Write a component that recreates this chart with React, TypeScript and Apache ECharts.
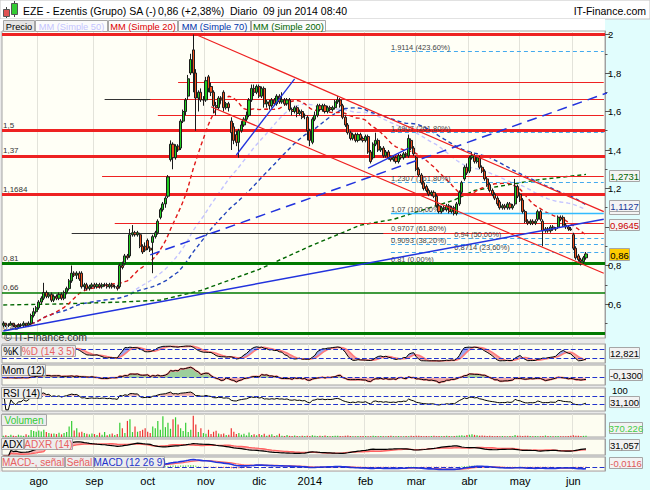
import React, { useEffect, useRef } from "react";
import * as echarts from "echarts";

// ---------- calendar (Bolsa de Madrid trading days) ----------
const firstDay = "2013-07-12";
const lastDay = "2014-06-09";
const holidays = ["2013-12-25", "2013-12-26", "2014-01-01", "2014-04-18", "2014-04-21", "2014-05-01"];
const emptySlots = 7;
const monthMarks: [string, string][] = [
  ["2013-08-01", "ago"], ["2013-09-02", "sep"], ["2013-10-01", "oct"], ["2013-11-01", "nov"],
  ["2013-12-02", "dic"], ["2014-01-02", "2014"], ["2014-02-03", "feb"], ["2014-03-03", "mar"],
  ["2014-04-01", "abr"], ["2014-05-02", "may"], ["2014-06-02", "jun"],
];

// ---------- prices [open, close, low, high] ----------
const jul13 = [
  [0.49, 0.50, 0.48, 0.51], [0.50, 0.49, 0.48, 0.50], [0.49, 0.49, 0.48, 0.50], [0.49, 0.50, 0.49, 0.51],
  [0.50, 0.49, 0.48, 0.50], [0.49, 0.48, 0.47, 0.49], [0.48, 0.49, 0.47, 0.50], [0.49, 0.49, 0.48, 0.50],
  [0.49, 0.50, 0.48, 0.51], [0.50, 0.49, 0.48, 0.50], [0.49, 0.50, 0.48, 0.51], [0.50, 0.54, 0.49, 0.55],
  [0.54, 0.56, 0.53, 0.58], [0.56, 0.58, 0.55, 0.59],
];
const aug13 = [
  [0.58, 0.61, 0.57, 0.62], [0.61, 0.63, 0.60, 0.64], [0.63, 0.66, 0.62, 0.71], [0.66, 0.64, 0.63, 0.67],
  [0.64, 0.65, 0.63, 0.66], [0.65, 0.62, 0.61, 0.66], [0.62, 0.64, 0.61, 0.65], [0.64, 0.63, 0.62, 0.65],
  [0.63, 0.65, 0.62, 0.66], [0.65, 0.63, 0.62, 0.66], [0.63, 0.66, 0.62, 0.67], [0.66, 0.68, 0.65, 0.69],
  [0.68, 0.72, 0.67, 0.73], [0.72, 0.76, 0.71, 0.80], [0.76, 0.75, 0.74, 0.77], [0.75, 0.76, 0.73, 0.77],
  [0.76, 0.73, 0.72, 0.77], [0.76, 0.69, 0.68, 0.77], [0.69, 0.70, 0.67, 0.71], [0.70, 0.68, 0.67, 0.71],
  [0.68, 0.69, 0.67, 0.70], [0.69, 0.70, 0.68, 0.71],
];
const sep13 = [
  [0.70, 0.69, 0.68, 0.71], [0.69, 0.70, 0.68, 0.71], [0.70, 0.69, 0.68, 0.71], [0.69, 0.70, 0.68, 0.71],
  [0.70, 0.70, 0.69, 0.71], [0.70, 0.69, 0.68, 0.71], [0.69, 0.70, 0.68, 0.71], [0.70, 0.69, 0.68, 0.71],
  [0.69, 0.69, 0.68, 0.70], [0.69, 0.68, 0.67, 0.70], [0.69, 0.80, 0.68, 0.81], [0.80, 0.79, 0.78, 0.82],
  [0.81, 0.85, 0.80, 0.86], [0.85, 0.84, 0.83, 0.86], [0.85, 0.96, 0.84, 0.99], [0.96, 0.97, 0.95, 1.01],
  [0.97, 0.96, 0.95, 0.98], [0.96, 0.97, 0.95, 0.98], [0.96, 0.90, 0.89, 0.97], [0.90, 0.87, 0.86, 0.91],
  [0.90, 0.88, 0.87, 0.92],
];
const oct13 = [
  [0.93, 0.89, 0.88, 0.94], [0.89, 0.88, 0.87, 0.90], [0.92, 0.95, 0.76, 0.96], [0.95, 0.97, 0.94, 0.98],
  [0.97, 1.03, 0.96, 1.04], [1.05, 1.09, 1.04, 1.10], [1.09, 1.12, 1.08, 1.13], [1.12, 1.15, 1.10, 1.16],
  [1.16, 1.26, 1.15, 1.27], [1.35, 1.43, 1.34, 1.45], [1.43, 1.36, 1.30, 1.44], [1.36, 1.42, 1.35, 1.43],
  [1.42, 1.40, 1.39, 1.43], [1.41, 1.55, 1.40, 1.56], [1.55, 1.60, 1.54, 1.61], [1.60, 1.66, 1.58, 1.67],
  [1.68, 1.77, 1.66, 1.79], [1.80, 1.87, 1.79, 1.90], [1.92, 1.80, 1.70, 2.00], [1.80, 1.67, 1.50, 1.82],
  [1.67, 1.70, 1.60, 1.71], [1.70, 1.66, 1.65, 1.72], [1.66, 1.66, 1.63, 1.68],
];
const nov13 = [
  [1.66, 1.76, 1.65, 1.78], [1.78, 1.72, 1.70, 1.79], [1.73, 1.70, 1.68, 1.75], [1.70, 1.63, 1.59, 1.71],
  [1.63, 1.62, 1.58, 1.65], [1.62, 1.67, 1.61, 1.68], [1.67, 1.66, 1.64, 1.68], [1.70, 1.62, 1.60, 1.71],
  [1.62, 1.64, 1.61, 1.65], [1.64, 1.62, 1.60, 1.65], [1.55, 1.49, 1.40, 1.57], [1.52, 1.45, 1.43, 1.54],
  [1.48, 1.44, 1.42, 1.50], [1.44, 1.50, 1.36, 1.51], [1.50, 1.53, 1.49, 1.55], [1.53, 1.56, 1.52, 1.57],
  [1.56, 1.58, 1.55, 1.60], [1.58, 1.66, 1.57, 1.67], [1.66, 1.72, 1.65, 1.74], [1.72, 1.70, 1.68, 1.74],
  [1.70, 1.73, 1.69, 1.74],
];
const dec13 = [
  [1.73, 1.68, 1.67, 1.74], [1.68, 1.72, 1.67, 1.73], [1.72, 1.64, 1.62, 1.73], [1.64, 1.65, 1.62, 1.66],
  [1.65, 1.63, 1.61, 1.66], [1.63, 1.66, 1.62, 1.67], [1.66, 1.64, 1.63, 1.67], [1.64, 1.68, 1.63, 1.69],
  [1.68, 1.65, 1.64, 1.69], [1.65, 1.66, 1.64, 1.70], [1.66, 1.64, 1.63, 1.67], [1.64, 1.66, 1.63, 1.67],
  [1.66, 1.61, 1.60, 1.67], [1.61, 1.60, 1.58, 1.62], [1.60, 1.62, 1.59, 1.63], [1.62, 1.59, 1.57, 1.63],
  [1.59, 1.60, 1.58, 1.61], [1.60, 1.57, 1.56, 1.61], [1.58, 1.58, 1.56, 1.59], [1.57, 1.50, 1.45, 1.58],
];
const jan14 = [
  [1.50, 1.45, 1.42, 1.51], [1.44, 1.56, 1.43, 1.57], [1.56, 1.58, 1.55, 1.60], [1.58, 1.63, 1.57, 1.64],
  [1.63, 1.61, 1.60, 1.64], [1.61, 1.63, 1.60, 1.64], [1.63, 1.60, 1.59, 1.64], [1.60, 1.62, 1.59, 1.63],
  [1.62, 1.61, 1.60, 1.63], [1.61, 1.62, 1.60, 1.63], [1.62, 1.65, 1.61, 1.66], [1.65, 1.66, 1.64, 1.68],
  [1.66, 1.63, 1.62, 1.67], [1.63, 1.57, 1.56, 1.64], [1.57, 1.53, 1.52, 1.58], [1.53, 1.49, 1.48, 1.54],
  [1.49, 1.46, 1.45, 1.50], [1.46, 1.48, 1.45, 1.49], [1.48, 1.45, 1.44, 1.49], [1.45, 1.48, 1.44, 1.49],
  [1.48, 1.46, 1.45, 1.49], [1.46, 1.45, 1.44, 1.47],
];
const feb14 = [
  [1.45, 1.47, 1.44, 1.48], [1.47, 1.39, 1.38, 1.48], [1.39, 1.34, 1.33, 1.40], [1.36, 1.43, 1.35, 1.44],
  [1.43, 1.45, 1.42, 1.49], [1.45, 1.40, 1.39, 1.46], [1.40, 1.41, 1.39, 1.42], [1.41, 1.37, 1.36, 1.42],
  [1.37, 1.39, 1.36, 1.40], [1.39, 1.36, 1.35, 1.40], [1.36, 1.35, 1.34, 1.37], [1.35, 1.36, 1.34, 1.37],
  [1.36, 1.34, 1.33, 1.37], [1.34, 1.37, 1.33, 1.38], [1.37, 1.36, 1.35, 1.38], [1.36, 1.38, 1.35, 1.39],
  [1.38, 1.37, 1.36, 1.39], [1.37, 1.46, 1.36, 1.48], [1.45, 1.41, 1.40, 1.46], [1.41, 1.38, 1.37, 1.42],
];
const mar14 = [
  [1.36, 1.30, 1.29, 1.37], [1.30, 1.27, 1.26, 1.31], [1.27, 1.23, 1.22, 1.28], [1.23, 1.20, 1.19, 1.24],
  [1.21, 1.19, 1.18, 1.22], [1.19, 1.17, 1.16, 1.20], [1.17, 1.18, 1.16, 1.19], [1.18, 1.16, 1.15, 1.19],
  [1.16, 1.11, 1.10, 1.17], [1.11, 1.08, 1.07, 1.12], [1.08, 1.10, 1.07, 1.11], [1.10, 1.09, 1.08, 1.11],
  [1.09, 1.11, 1.08, 1.12], [1.11, 1.08, 1.07, 1.12], [1.08, 1.10, 1.07, 1.11], [1.10, 1.07, 1.06, 1.11],
  [1.07, 1.12, 1.06, 1.13], [1.12, 1.18, 1.11, 1.19], [1.18, 1.23, 1.17, 1.24], [1.25, 1.31, 1.24, 1.32],
  [1.31, 1.28, 1.27, 1.33],
];
const apr14 = [
  [1.29, 1.36, 1.28, 1.37], [1.36, 1.37, 1.35, 1.39], [1.37, 1.34, 1.33, 1.38], [1.34, 1.36, 1.33, 1.37],
  [1.36, 1.31, 1.30, 1.37], [1.31, 1.29, 1.28, 1.32], [1.29, 1.25, 1.24, 1.30], [1.25, 1.22, 1.21, 1.26],
  [1.22, 1.19, 1.18, 1.23], [1.19, 1.17, 1.16, 1.20], [1.17, 1.15, 1.14, 1.18], [1.15, 1.12, 1.11, 1.16],
  [1.13, 1.10, 1.09, 1.14], [1.10, 1.11, 1.09, 1.12], [1.11, 1.10, 1.09, 1.12], [1.10, 1.12, 1.09, 1.13],
  [1.12, 1.10, 1.09, 1.13], [1.10, 1.11, 1.09, 1.12], [1.12, 1.21, 1.11, 1.25], [1.21, 1.16, 1.15, 1.22],
];
const may14 = [
  [1.17, 1.14, 1.13, 1.18], [1.14, 1.08, 1.07, 1.15], [1.08, 1.03, 1.02, 1.09], [1.03, 1.02, 1.01, 1.04],
  [1.02, 1.03, 1.01, 1.04], [1.03, 1.02, 1.01, 1.04], [1.02, 1.03, 1.01, 1.04], [1.04, 1.08, 1.03, 1.09],
  [1.08, 1.04, 1.03, 1.09], [1.03, 0.98, 0.90, 1.04], [0.98, 0.99, 0.97, 1.00], [0.99, 0.98, 0.97, 1.00],
  [0.98, 1.00, 0.97, 1.01], [1.00, 0.99, 0.98, 1.01], [0.99, 0.99, 0.98, 1.00], [1.00, 1.05, 0.99, 1.06],
  [1.05, 1.04, 1.03, 1.06], [1.05, 1.01, 1.00, 1.06], [1.01, 1.00, 0.99, 1.02], [1.00, 0.99, 0.98, 1.01],
  [0.99, 0.985, 0.98, 1.00],
];
const jun14 = [
  [0.96, 0.89, 0.88, 0.97], [0.89, 0.84, 0.83, 0.90], [0.85, 0.83, 0.82, 0.86], [0.83, 0.82, 0.80, 0.84],
  [0.82, 0.84, 0.81, 0.85], [0.84, 0.86, 0.83, 0.87],
];

// ---------- volume (thousands of shares) ----------
const volJul13 = [350, 500, 300, 650, 400, 300, 700, 450, 350, 800, 500, 2100, 1800, 1600];
const volAug13 = [2000, 1700, 2200, 1500, 1200, 1000, 1100, 900, 1300, 800, 1200, 1500, 3200, 4900, 2000, 2700, 1400, 1600, 1200, 1000, 800, 1100];
const volSep13 = [900, 600, 1300, 700, 1500, 500, 800, 1100, 600, 900, 4300, 2700, 1200, 4900, 5400, 1500, 3200, 1600, 1800, 2200, 2700];
const volOct13 = [1600, 1200, 3200, 2700, 4900, 2200, 6300, 3000, 4300, 2500, 5400, 6000, 3800, 2700, 1800, 4300, 1500, 2200, 6500, 3800, 1500, 2700, 1200];
const volNov13 = [1000, 2200, 900, 1600, 1900, 1100, 800, 1100, 600, 700, 2700, 1600, 900, 1200, 700, 1000, 500, 1400, 600, 800, 500];
const volDec13 = [900, 600, 1000, 400, 700, 800, 300, 500, 1000, 400, 300, 600, 350, 300, 450, 300, 250, 400, 300, 350];
const volJan14 = [300, 500, 400, 250, 350, 300, 450, 300, 200, 300, 400, 350, 300, 250, 350, 450, 300, 250, 200, 300, 250, 300];
const volFeb14 = [300, 250, 200, 350, 300, 250, 300, 200, 250, 300, 350, 250, 200, 300, 250, 200, 300, 250, 350, 300];
const volMar14 = [400, 350, 300, 250, 300, 250, 300, 350, 250, 300, 250, 300, 350, 300, 250, 300, 400, 450, 500, 400, 600];
const volApr14 = [700, 800, 650, 500, 400, 450, 350, 300, 350, 300, 250, 300, 250, 300, 250, 200, 300, 250, 600, 400];
const volMay14 = [350, 300, 400, 350, 300, 250, 300, 200, 250, 300, 450, 300, 250, 200, 250, 300, 250, 200, 250, 300, 350];
const volJun14 = [500, 400, 350, 300, 350, 370.226];

// ---------- 200-day average (history precedes the window) ----------
const ma200Points: [string, number][] = [
  ["2013-07-12", 0.595], ["2013-08-13", 0.60], ["2013-09-16", 0.61], ["2013-10-08", 0.62],
  ["2013-10-30", 0.67], ["2013-12-02", 0.78], ["2014-01-02", 0.90], ["2014-01-30", 1.01],
  ["2014-02-18", 1.04], ["2014-03-24", 1.14], ["2014-04-03", 1.19], ["2014-05-13", 1.245],
  ["2014-06-09", 1.2731],
];

// ---------- drawn levels / annotations ----------
const RED = "#ee2222";
const GREEN = "#007a00";
const DARK = "#333333";
const levelLines = [
  { price: 2.0, from: 0, color: RED, width: 3, label: "" },
  { price: 1.5, from: 0, color: RED, width: 3, label: "1,5" },
  { price: 1.37, from: 0, color: RED, width: 3, label: "1,37" },
  { price: 1.1684, from: 0, color: RED, width: 3, label: "1,1684" },
  { price: 1.752, from: 69, color: RED, width: 1, label: "" },
  { price: 1.663, from: 40, color: DARK, width: 1, label: "" },
  { price: 1.663, from: 58, color: RED, width: 1, label: "" },
  { price: 1.58, from: 61, color: RED, width: 1, label: "" },
  { price: 1.262, from: 39, color: RED, width: 1, label: "" },
  { price: 1.02, from: 44, color: RED, width: 1, label: "" },
  { price: 0.97, from: 27, color: DARK, width: 1, label: "" },
  { price: 0.97, from: 150, color: RED, width: 1, label: "" },
  { price: 0.81, from: 0, color: GREEN, width: 3, label: "0,81" },
  { price: 0.66, from: 0, color: GREEN, width: 1.5, label: "0,66" },
  { price: 0.45, from: 0, color: GREEN, width: 3, label: "0,45" },
];
const fibStart = 153;
const fibLevels = [
  { price: 1.9114, text: "1,9114 (423,60%)", line: "dashed", labelAt: 153 },
  { price: 1.4907, text: "1,4907 (261,80%)", line: "dashed", labelAt: 153 },
  { price: 1.2307, text: "1,2307 (161,80%)", line: "dashed", labelAt: 153 },
  { price: 1.07, text: "1,07 (100,00%)", line: "solid", labelAt: 153 },
  { price: 0.9707, text: "0,9707 (61,80%)", line: "none", labelAt: 153 },
  { price: 0.94, text: "0,94 (50,00%)", line: "dashed", labelAt: 178 },
  { price: 0.9093, text: "0,9093 (38,20%)", line: "dashed", labelAt: 153 },
  { price: 0.8714, text: "0,8714 (23,60%)", line: "dashed", labelAt: 178 },
  { price: 0.81, text: "0,81 (0,00%)", line: "none", labelAt: 153 },
];
const trendLines = [
  { pts: [[76, 2.0], [237, 1.08]], color: RED, width: 1.2, type: "solid" },
  { pts: [[82, 1.625], [237, 0.76]], color: RED, width: 1.2, type: "solid" },
  { pts: [[0, 0.46], [237, 1.04]], color: "#2233dd", width: 1.5, type: "solid" },
  { pts: [[58, 0.855], [255, 1.774]], color: "#2233dd", width: 1.5, type: [10, 6] },
  { pts: [[92, 1.374], [115, 1.77]], color: "#2233dd", width: 1.3, type: "solid" },
  { pts: [[144, 1.306], [160, 1.41]], color: "#2233dd", width: 1.3, type: "solid" },
];

const lastValues = { ma200: 1.2731, ma70: 1.1127, ma20: 0.9645, close: 0.86, stoch: 12.821, mom: -0.13, rsi: 31.1, vol: 370226, adx: 31.057, macd: -0.0116 };

// ---------- helpers ----------
function tradingDays(): string[] {
  const out: string[] = [];
  const hol = new Set(holidays);
  const d = new Date(firstDay + "T00:00:00Z");
  const end = new Date(lastDay + "T00:00:00Z");
  let extra = 0;
  while (d <= end || extra < emptySlots) {
    const wd = d.getUTCDay();
    const s = d.toISOString().slice(0, 10);
    if (wd !== 0 && wd !== 6 && !hol.has(s)) {
      out.push(s);
      if (d > end) extra++;
    }
    d.setUTCDate(d.getUTCDate() + 1);
  }
  return out;
}
const sma = (a: number[], n: number) => a.map((_, i) => {
  const s = Math.max(0, i - n + 1); let t = 0;
  for (let j = s; j <= i; j++) t += a[j];
  return t / (i - s + 1);
});
const ema = (a: number[], n: number) => {
  const k = 2 / (n + 1); let e = a[0];
  return a.map((v, i) => (e = i === 0 ? v : v * k + e * (1 - k)));
};
const wilder = (a: number[], n: number) => {
  let s = 0;
  return a.map((v, i) => (s = i < n ? (s * i + v) / (i + 1) : (s * (n - 1) + v) / n));
};
const comma = (v: number, d: number) => v.toFixed(d).replace(".", ",");

const FONT = '"Liberation Sans", Arial, sans-serif';

function buildOption() {
  const cats = tradingDays();
  const candles = [...jul13, ...aug13, ...sep13, ...oct13, ...nov13, ...dec13, ...jan14, ...feb14, ...mar14, ...apr14, ...may14, ...jun14];
  const vols = [...volJul13, ...volAug13, ...volSep13, ...volOct13, ...volNov13, ...volDec13, ...volJan14, ...volFeb14, ...volMar14, ...volApr14, ...volMay14, ...volJun14].map((v) => v * 1000);
  const o = candles.map((c) => c[0]);
  const c = candles.map((k) => k[1]);
  const l = candles.map((k) => k[2]);
  const h = candles.map((k) => k[3]);

  const monthIdx = new Map<number, string>();
  monthMarks.forEach(([d, lab]) => monthIdx.set(cats.indexOf(d), lab));

  // moving averages
  const ma20 = sma(c, 20), ma50 = sma(c, 50), ma70 = sma(c, 70);
  const ma200 = ma200Points.map(([d, v]) => [cats.indexOf(d), v]);

  // stochastic 14 3 5
  const fastK = c.map((v, i) => {
    const s = Math.max(0, i - 13);
    const hh = Math.max(...h.slice(s, i + 1)), ll = Math.min(...l.slice(s, i + 1));
    return hh === ll ? 50 : (100 * (v - ll)) / (hh - ll);
  });
  const K = sma(fastK, 3);
  const D = sma(K, 5);
  // momentum 12
  const mom = c.map((v, i) => v - c[Math.max(0, i - 12)]);
  // RSI 14
  const gains = c.map((v, i) => (i === 0 ? 0 : Math.max(v - c[i - 1], 0)));
  const losses = c.map((v, i) => (i === 0 ? 0 : Math.max(c[i - 1] - v, 0)));
  const ag = wilder(gains, 14), al = wilder(losses, 14);
  const rsi = ag.map((g, i) => (al[i] === 0 ? 100 : 100 - 100 / (1 + g / al[i])));
  // ADX 14
  const tr = c.map((_, i) => (i === 0 ? h[0] - l[0] : Math.max(h[i] - l[i], Math.abs(h[i] - c[i - 1]), Math.abs(l[i] - c[i - 1]))));
  const pdm = c.map((_, i) => { if (i === 0) return 0; const up = h[i] - h[i - 1], dn = l[i - 1] - l[i]; return up > dn && up > 0 ? up : 0; });
  const mdm = c.map((_, i) => { if (i === 0) return 0; const up = h[i] - h[i - 1], dn = l[i - 1] - l[i]; return dn > up && dn > 0 ? dn : 0; });
  const atr = wilder(tr, 14), sp = wilder(pdm, 14), sm = wilder(mdm, 14);
  const dx = atr.map((a, i) => { const p = (100 * sp[i]) / a, m = (100 * sm[i]) / a; return p + m === 0 ? 0 : (100 * Math.abs(p - m)) / (p + m); });
  const adx = wilder(dx, 14);
  const adxr = adx.map((v, i) => (v + adx[Math.max(0, i - 14)]) / 2);
  // MACD 12 26 9
  const e12 = ema(c, 12), e26 = ema(c, 26);
  const macd = e12.map((v, i) => v - e26[i]);
  const sig = ema(macd, 9);
  const hist = macd.map((v, i) => v - sig[i]);

  // ---- layout ----
  const L = 2, W = 603;
  const grids = [
    { top: 31, height: 307, bg: "#fffff6" },
    { top: 344, height: 19, bg: "#fdfdf1" },
    { top: 365, height: 20, bg: "#fdfdf1" },
    { top: 388, height: 23, bg: "#fdfdf1" },
    { top: 414, height: 23, bg: "#fdfdf1" },
    { top: 439, height: 16, bg: "#fdfdf1" },
    { top: 457, height: 14, bg: "#fdfdf1" },
  ];
  const pxPerUnit = 192.5; // price scale
  const PMAX = 2 + (34.5 - 31) / pxPerUnit;
  const PMIN = PMAX - 307 / pxPerUnit;

  const mkX = (gi: number, labels: boolean) => ({
    type: "category", gridIndex: gi, data: cats, boundaryGap: true,
    axisLine: { show: false }, axisTick: { show: false },
    axisLabel: labels
      ? { show: true, interval: (i: number) => monthIdx.has(i), formatter: (_v: string, i: number) => monthIdx.get(i) || "", color: "#000", fontSize: 11, fontFamily: FONT, margin: 4 }
      : { show: false },
    splitLine: { show: true, interval: (i: number) => monthIdx.has(i), lineStyle: { color: "#e3e3da", width: 1 } },
  });
  const mkY = (gi: number, min: number, max: number) => ({
    type: "value", gridIndex: gi, position: "right", min, max,
    axisLine: { show: true, lineStyle: { color: "#a0a0a0" } }, axisTick: { show: false },
    axisLabel: { show: false }, splitLine: { show: false },
  });

  const majors = [0.6, 0.8, 1.2, 1.4, 1.6, 1.8, 2.0];
  const majorTicks = [0.6, 0.8, 1.0, 1.2, 1.4, 1.6, 1.8, 2.0];
  const minors = [0.5, 0.7, 0.9, 1.1, 1.3, 1.5, 1.7, 1.9];

  const blueLine = { color: "#2233cc", width: 1.2 };
  const hline = (v: number) => ({ yAxis: v, lineStyle: blueLine });
  const mk = (vals: number[]) => ({ silent: true, symbol: "none", label: { show: false }, data: vals.map(hline) });

  const series: any[] = [];
  // candles
  series.push({
    type: "candlestick", name: "Precio", xAxisIndex: 0, yAxisIndex: 0, data: candles, barWidth: 2.6, z: 5,
    itemStyle: { color: "#1fcc1f", color0: "#f0501e", borderColor: "#1c1c1c", borderColor0: "#1c1c1c", borderWidth: 1 },
  });
  const maStyle = (color: string) => ({ color, width: 1.4, type: [4, 3] });
  series.push({ type: "line", name: "MM (Simple 50)", xAxisIndex: 0, yAxisIndex: 0, data: ma50, symbol: "none", lineStyle: maStyle("#c4c4ff"), z: 4 });
  series.push({ type: "line", name: "MM (Simple 70)", xAxisIndex: 0, yAxisIndex: 0, data: ma70, symbol: "none", lineStyle: maStyle("#2244bb"), z: 4 });
  series.push({ type: "line", name: "MM (Simple 200)", xAxisIndex: 0, yAxisIndex: 0, data: ma200, symbol: "none", lineStyle: maStyle("#006600"), z: 4 });
  series.push({ type: "line", name: "MM (Simple 20)", xAxisIndex: 0, yAxisIndex: 0, data: ma20, symbol: "none", lineStyle: maStyle("#e01818"), z: 4 });

  // horizontal levels
  const lastSlot = cats.length - 1;
  const levelData: any[] = levelLines.map((lv) => {
    const lab = lv.label
      ? { show: true, position: "insideStartTop", formatter: lv.label, color: "#333", fontSize: 8, fontFamily: FONT, distance: 1 }
      : { show: false };
    const ls = { color: lv.color, width: lv.width, type: "solid" };
    if (lv.from === 0) return { yAxis: lv.price, lineStyle: ls, label: lab };
    return [
      { coord: [lv.from, lv.price], lineStyle: ls, label: lab },
      { coord: [lastSlot, lv.price], lineStyle: ls },
    ];
  });
  const fibData: any[] = [];
  fibLevels.forEach((f) => {
    const ls = f.line === "none"
      ? { color: "rgba(0,0,0,0)", width: 0.01 }
      : { color: f.line === "solid" ? "#33bbff" : "#44aaee", width: f.line === "solid" ? 1.3 : 1, type: f.line === "solid" ? "solid" : [4, 3] };
    const lab = { show: true, position: "insideStartTop", formatter: f.text, color: "#444", fontSize: 7.5, fontFamily: FONT, distance: 0, opacity: 1 };
    if (f.labelAt > fibStart) {
      fibData.push([{ coord: [fibStart, f.price], lineStyle: ls, label: { show: false } }, { coord: [f.labelAt, f.price], lineStyle: ls }]);
    }
    fibData.push([{ coord: [f.labelAt, f.price], lineStyle: ls, label: lab }, { coord: [lastSlot, f.price], lineStyle: ls }]);
  });
  series.push({
    type: "line", name: "levels", xAxisIndex: 0, yAxisIndex: 0, data: [], z: 6,
    markLine: { silent: true, symbol: "none", animation: false, data: [...levelData, ...fibData] },
  });
  trendLines.forEach((t, i) => series.push({
    type: "line", name: "trend" + i, xAxisIndex: 0, yAxisIndex: 0, data: t.pts, symbol: "none", z: 6, clip: false,
    lineStyle: { color: t.color, width: t.width, type: t.type },
  }));

  // stochastic
  const lo = K.map((k, i) => Math.min(k, D[i]));
  series.push({ type: "line", xAxisIndex: 1, yAxisIndex: 2, data: lo, stack: "st", symbol: "none", lineStyle: { width: 0 }, markLine: mk([80, 20]) });
  series.push({ type: "line", xAxisIndex: 1, yAxisIndex: 2, data: K.map((k, i) => Math.max(k - D[i], 0)), stack: "st", symbol: "none", lineStyle: { width: 0 }, areaStyle: { color: "#9aa8f0", opacity: 1 } });
  series.push({ type: "line", xAxisIndex: 1, yAxisIndex: 2, data: K.map((k, i) => Math.max(D[i] - k, 0)), stack: "st", symbol: "none", lineStyle: { width: 0 }, areaStyle: { color: "#f4a8a8", opacity: 1 } });
  series.push({ type: "line", name: "%D", xAxisIndex: 1, yAxisIndex: 2, data: D, symbol: "none", lineStyle: { color: "#ff7b7b", width: 1.6 } });
  series.push({ type: "line", name: "%K", xAxisIndex: 1, yAxisIndex: 2, data: K, symbol: "none", lineStyle: { color: "#000", width: 1 } });

  // momentum
  series.push({ type: "line", xAxisIndex: 2, yAxisIndex: 3, data: mom.map((v) => Math.max(v, 0)), symbol: "none", lineStyle: { width: 0 }, areaStyle: { color: "#9ccf9c", opacity: 1 }, markLine: mk([0]) });
  series.push({ type: "line", xAxisIndex: 2, yAxisIndex: 3, data: mom.map((v) => Math.min(v, 0)), symbol: "none", lineStyle: { width: 0 }, areaStyle: { color: "#eeaaaa", opacity: 1 } });
  series.push({ type: "line", name: "Mom", xAxisIndex: 2, yAxisIndex: 3, data: mom, symbol: "none", lineStyle: { color: "#ff8c8c", width: 2 } });
  series.push({ type: "line", xAxisIndex: 2, yAxisIndex: 3, data: mom, symbol: "none", lineStyle: { color: "#000", width: 1 } });

  // RSI
  series.push({ type: "line", xAxisIndex: 3, yAxisIndex: 4, data: rsi.map((v) => Math.max(v, 70)), symbol: "none", lineStyle: { width: 0 }, areaStyle: { color: "#eeaaaa", opacity: 1, origin: 70 }, markLine: mk([70, 30]) });
  series.push({ type: "line", name: "RSI", xAxisIndex: 3, yAxisIndex: 4, data: rsi, symbol: "none", lineStyle: { color: "#000", width: 1 } });

  // volume
  series.push({
    type: "bar", name: "Volumen", xAxisIndex: 4, yAxisIndex: 5, barWidth: 1.2,
    data: vols.map((v, i) => ({ value: v, itemStyle: { color: c[i] >= o[i] ? "#33cc33" : "#ee3333" } })),
  });

  // ADX / ADXR
  series.push({ type: "line", xAxisIndex: 5, yAxisIndex: 6, data: adx.map((v, i) => Math.min(v, adxr[i])), stack: "ad", symbol: "none", lineStyle: { width: 0 } });
  series.push({ type: "line", xAxisIndex: 5, yAxisIndex: 6, data: adx.map((v, i) => Math.abs(v - adxr[i])), stack: "ad", symbol: "none", lineStyle: { width: 0 }, areaStyle: { color: "#f2b4b4", opacity: 1 } });
  series.push({ type: "line", name: "ADXR", xAxisIndex: 5, yAxisIndex: 6, data: adxr, symbol: "none", lineStyle: { color: "#ff6262", width: 1.4 } });
  series.push({ type: "line", name: "ADX", xAxisIndex: 5, yAxisIndex: 6, data: adx, symbol: "none", lineStyle: { color: "#000", width: 1.2 } });

  // MACD
  series.push({
    type: "bar", name: "MACD-", xAxisIndex: 6, yAxisIndex: 7, barWidth: 1,
    data: hist.map((v) => ({ value: v, itemStyle: { color: v >= 0 ? "#33cc33" : "#ee4444" } })), markLine: mk([0]),
  });
  series.push({ type: "line", name: "Señal", xAxisIndex: 6, yAxisIndex: 7, data: sig, symbol: "none", lineStyle: { color: "#ff6262", width: 1.2 } });
  series.push({ type: "line", name: "MACD", xAxisIndex: 6, yAxisIndex: 7, data: macd, symbol: "none", lineStyle: { color: "#2233dd", width: 1.6 } });

  // ---- graphics ----
  const g: any[] = [];
  const txt = (x: number, y: number, text: string, fill: string, size: number, align = "left", z = 50) =>
    ({ type: "text", x, y, z, silent: true, style: { text, fill, fontSize: size, fontFamily: FONT, align, verticalAlign: "middle" } });
  const box = (x: number, y: number, w: number, hgt: number, text: string, fill: string, bg: string, size: number, z = 60) => [
    { type: "rect", z, silent: true, shape: { x: x + 0.5, y: y + 0.5, width: w, height: hgt }, style: { fill: bg, stroke: "#a6a6a6", lineWidth: 1 } },
    txt(x + w / 2 + 0.5, y + hgt / 2 + 1, text, fill, size, "center", z + 1),
  ];
  // frame backdrops
  g.push({ type: "rect", z: -10, silent: true, shape: { x: 0, y: 0, width: 650, height: 19 }, style: { fill: "#ffffff", stroke: "#c4c4c4", lineWidth: 1 } });
  g.push({ type: "rect", z: -10, silent: true, shape: { x: 0, y: 19, width: 605, height: 453 }, style: { fill: "#e9e9e9" } });
  g.push({ type: "rect", z: -9, silent: true, shape: { x: 0, y: 19, width: 605, height: 12 }, style: { fill: "#ffffff" } });
  // logo candles
  g.push({ type: "line", z: 50, silent: true, shape: { x1: 6.5, y1: 7, x2: 6.5, y2: 18 }, style: { stroke: "#444", lineWidth: 1 } });
  g.push({ type: "rect", z: 51, silent: true, shape: { x: 3.5, y: 9.5, width: 6, height: 7 }, style: { fill: "#e05050", stroke: "#555", lineWidth: 1 } });
  g.push({ type: "line", z: 50, silent: true, shape: { x1: 14.5, y1: 1, x2: 14.5, y2: 17 }, style: { stroke: "#444", lineWidth: 1 } });
  g.push({ type: "rect", z: 51, silent: true, shape: { x: 11.5, y: 3.5, width: 6, height: 11 }, style: { fill: "#33cc33", stroke: "#555", lineWidth: 1 } });
  // header
  g.push(txt(23, 10.5, "EZE - Ezentis (Grupo) SA (-)", "#000", 10.5));
  g.push(txt(158, 10.5, comma(lastValues.close, 2) + " (+2,38%)", "#000", 10.5));
  g.push(txt(230, 10.5, "Diario", "#000", 10.5));
  g.push(txt(263, 10.5, "09 jun 2014 08:40", "#000", 10.5));
  g.push(txt(646, 10.5, "IT-Finance.com", "#000", 10.5, "right"));
  // legend row
  const legend = [
    { t: "Precio", x: 3, w: 31, c: "#000", bg: "#e4e4e4" },
    { t: "MM (Simple 50)", x: 35, w: 72, c: "#c4c4ff", bg: "#fbfbfb" },
    { t: "MM (Simple 20)", x: 108, w: 69, c: "#dd0000", bg: "#fbfbfb" },
    { t: "MM (Simple 70)", x: 178, w: 72, c: "#0033aa", bg: "#fbfbfb" },
    { t: "MM (Simple 200)", x: 251, w: 74, c: "#006600", bg: "#fbfbfb" },
  ];
  legend.forEach((it) => g.push(...box(it.x, 20, it.w, 11, it.t, it.c, it.bg, 9.3)));
  // panel labels
  const panelLabels = [
    { t: "%K", x: 1, y: 345, w: 19, c: "#000" },
    { t: "%D (14 3 5)", x: 21, y: 345, w: 54, c: "#e86060" },
    { t: "Mom (12)", x: 1, y: 364, w: 44, c: "#000" },
    { t: "RSI (14)", x: 1, y: 387, w: 40, c: "#000" },
    { t: "Volumen", x: 1, y: 414, w: 45, c: "#33cc33" },
    { t: "ADX", x: 1, y: 438, w: 22, c: "#000" },
    { t: "ADXR (14)", x: 24, y: 438, w: 48, c: "#e86060" },
    { t: "MACD-, señal", x: 1, y: 456, w: 63, c: "#e86060" },
    { t: "Señal", x: 65, y: 456, w: 28, c: "#e86060" },
    { t: "MACD (12 26 9)", x: 94, y: 456, w: 70, c: "#2233cc" },
  ];
  panelLabels.forEach((p) => g.push(...box(p.x, p.y, p.w, 11, p.t, p.c, "#ededed", 10)));
  // right value boxes (main)
  g.push(...box(609, 170, 30, 11, comma(lastValues.ma200, 4), "#006600", "#f4f4f4", 9.5));
  g.push({ type: "rect", z: 58, silent: true, shape: { x: 609.5, y: 203.5, width: 30, height: 11 }, style: { fill: "#f4f4f4", stroke: "#a6a6a6", lineWidth: 1 } });
  g.push(...box(609, 200, 30, 11, comma(lastValues.ma70, 4), "#1a3a9a", "#f4f4f4", 9.5));
  g.push(...box(609, 219, 30, 11, comma(lastValues.ma20, 4), "#cc0000", "#f4f4f4", 9.5));
  g.push(...box(609, 248, 20, 12, comma(lastValues.close, 2), "#000", "#ffcc00", 9.5));
  // right value boxes (panels)
  g.push(...box(609, 347, 30, 11, comma(lastValues.stoch, 3), "#000", "#f2f2f2", 9.5));
  g.push(...box(609, 369, 33, 11, comma(lastValues.mom, 4), "#000", "#f2f2f2", 9.5));
  g.push(txt(612, 390, "100", "#000", 9.5));
  g.push(...box(609, 396, 30, 11, comma(lastValues.rsi, 3), "#000", "#f2f2f2", 9.5));
  g.push(...box(609, 422, 33, 11, lastValues.vol.toLocaleString("en-US").replace(/,/g, "."), "#44cc44", "#f2f2f2", 9.5));
  g.push(...box(609, 439, 30, 11, comma(lastValues.adx, 3), "#000", "#f2f2f2", 9.5));
  g.push(...box(609, 457, 33, 11, comma(lastValues.macd, 4), "#e05858", "#f2f2f2", 9.5));
  // watermark
  g.push(txt(4, 337, "© IT-Finance.com", "#333", 10.5));

  return {
    animation: false,
    backgroundColor: "#e1fdfd",
    textStyle: { fontFamily: FONT },
    grid: grids.map((gd) => ({ left: L, width: W, top: gd.top, height: gd.height, show: true, backgroundColor: gd.bg, borderColor: "#a4a4a4", borderWidth: 1 })),
    xAxis: grids.map((_, i) => mkX(i, i === grids.length - 1)),
    yAxis: [
      {
        type: "value", gridIndex: 0, position: "right", min: PMIN, max: PMAX,
        axisLine: { show: true, lineStyle: { color: "#a0a0a0" } },
        axisTick: { show: true, customValues: majorTicks, length: 5, lineStyle: { color: "#555" } },
        axisLabel: { show: true, customValues: majors, formatter: (v: number) => String(+v.toFixed(1)).replace(".", ","), color: "#000", fontSize: 9.5, fontFamily: FONT, margin: 3 },
        splitLine: { show: false },
      },
      {
        type: "value", gridIndex: 0, position: "right", min: PMIN, max: PMAX,
        axisLine: { show: false }, axisTick: { show: true, customValues: minors, length: 2.5, lineStyle: { color: "#555" } },
        axisLabel: { show: false }, splitLine: { show: false },
      },
      mkY(1, -10, 112),
      mkY(2, -0.55, 0.95),
      mkY(3, -6, 109),
      mkY(4, 0, 7000000),
      mkY(5, 5, 75),
      mkY(6, -0.14, 0.33),
    ],
    series,
    graphic: { elements: g },
  };
}

export default function App() {
  const ref = useRef<HTMLDivElement>(null);
  useEffect(() => {
    if (!ref.current) return;
    const chart = echarts.init(ref.current, undefined, { renderer: "svg" });
    chart.setOption(buildOption() as any);
    return () => chart.dispose();
  }, []);
  return <div ref={ref} style={{ position: "fixed", left: 0, top: 0, width: 650, height: 490 }} />;
}
